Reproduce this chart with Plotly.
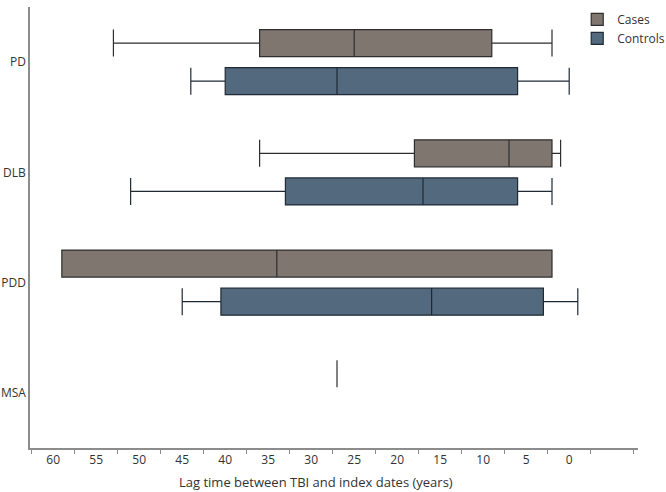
import plotly.graph_objects as go

categories = ["PD", "DLB", "PDD", "MSA"]

# values in years (axis is reversed: larger lag on the left)
cases_cats = ["PD", "DLB", "PDD", "MSA"]
cases_max = [53, 36, 59, 27]      # left whisker end
cases_q_hi = [36, 18, 59, 27]     # left box edge
cases_med = [25, 7, 34, 27]
cases_q_lo = [9, 2, 2, 27]        # right box edge
cases_min = [2, 1, 2, 27]         # right whisker end

ctrl_cats = ["PD", "DLB", "PDD"]
ctrl_max = [44, 51, 45]
ctrl_q_hi = [40, 33, 40.5]
ctrl_med = [27, 17, 16]
ctrl_q_lo = [6, 6, 3]
ctrl_min = [0, 2, -1]

x_ticks = [60, 55, 50, 45, 40, 35, 30, 25, 20, 15, 10, 5, 0]

fig = go.Figure()
fig.add_trace(go.Box(
    name="Cases", orientation="h", y=cases_cats,
    q1=cases_q_lo, median=cases_med, q3=cases_q_hi,
    lowerfence=cases_min, upperfence=cases_max,
    fillcolor="#807670", line=dict(color="#2e2e2e", width=1.2),
    whiskerwidth=1, hoverinfo="skip",
))
fig.add_trace(go.Box(
    name="Controls", orientation="h", y=ctrl_cats,
    q1=ctrl_q_lo, median=ctrl_med, q3=ctrl_q_hi,
    lowerfence=ctrl_min, upperfence=ctrl_max,
    fillcolor="#53697e", line=dict(color="#1f2a35", width=1.2),
    whiskerwidth=1, hoverinfo="skip",
))

fig.update_layout(
    width=666, height=492,
    margin=dict(l=30, r=28, t=7, b=44, autoexpand=False),
    paper_bgcolor="white", plot_bgcolor="white",
    boxmode="group", boxgap=0.31, boxgroupgap=0.29,
    font=dict(family="Open Sans", size=12, color="#333333"),
    showlegend=True,
    legend=dict(x=1.053, xanchor="right", y=1.005, yanchor="top",
                bgcolor="rgba(0,0,0,0)", font=dict(size=12, color="#333333"),
                itemwidth=30),
    xaxis=dict(
        range=[62.7, -8], tickmode="array", tickvals=x_ticks,
        ticktext=[str(v) for v in x_ticks],
        showgrid=False, zeroline=False, showline=True,
        linecolor="#8c8c8c", linewidth=1.5, automargin=False,
        ticks="", tickfont=dict(size=12, color="#333333"),
        minor=dict(tick0=2.5, dtick=5, ticks="outside", ticklen=4,
                   tickcolor="#8c8c8c", showgrid=False),
    ),
    yaxis=dict(
        categoryorder="array", categoryarray=categories,
        autorange="reversed", showgrid=False, zeroline=False,
        showline=True, linecolor="#8c8c8c", linewidth=1.5, automargin=False,
        ticks="", tickfont=dict(size=12, color="#333333"),
    ),
    annotations=[dict(
        text="Lag time between TBI and index dates (years)",
        x=29.5, xref="x", y=-0.077, yref="paper",
        xanchor="center", yanchor="middle", showarrow=False,
        font=dict(size=13, color="#333333"),
    )],
)

fig.write_html("out.html", config={"displayModeBar": False},
               post_script="document.body.style.margin='0px';")
